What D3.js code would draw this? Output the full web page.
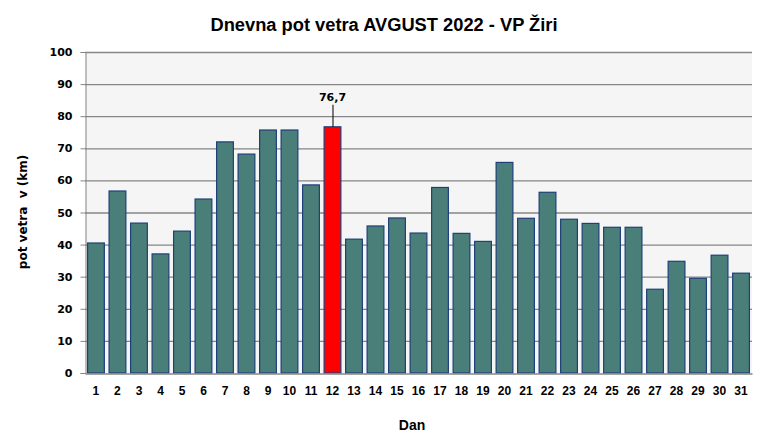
<!DOCTYPE html>
<html><head><meta charset="utf-8">
<script src="https://cdn.jsdelivr.net/npm/d3@7"></script>
<style>body{margin:0;background:#fff}</style>
</head><body>
<svg id="c" width="770" height="439"></svg>
<script>
const days = d3.range(1, 32).map(String);
const values = [40.5,56.7,46.7,37.1,44.2,54.2,72.0,68.2,75.7,75.7,58.6,76.7,41.7,45.8,48.3,43.6,57.8,43.5,41.0,65.6,48.2,56.3,47.9,46.6,45.4,45.4,26.1,34.8,29.5,36.7,31.1];
const yTicks = [0,10,20,30,40,50,60,70,80,90,100];
const title = "Dnevna pot vetra AVGUST 2022 - VP Žiri";
const maxLabel = "76,7";

const svg = d3.select("#c");
const m = {l:85, r:752, t:52, b:373};
const x = d3.scaleBand().domain(days).range([m.l, m.r]).paddingInner(0.22).paddingOuter(0.12);
const y = d3.scaleLinear().domain([0,100]).range([m.b, m.t]);

svg.append("rect").attr("x", m.l).attr("y", m.t).attr("width", m.r-m.l).attr("height", m.b-m.t).attr("fill","#f5f5f5");

svg.append("g").selectAll("line").data(yTicks.filter(d=>d>0)).join("line")
  .attr("x1", m.l).attr("x2", m.r).attr("y1", d=>y(d)+0.5).attr("y2", d=>y(d)+0.5)
  .attr("stroke","#868686").attr("stroke-width",1.3);

const yAxis = svg.append("g").attr("transform",`translate(${m.l+0.5},0)`)
  .call(d3.axisLeft(y).tickValues(yTicks).tickSize(5).tickPadding(8));
yAxis.select(".domain").attr("stroke","#868686");
yAxis.selectAll(".tick line").attr("stroke","#868686");
yAxis.selectAll("text").attr("font-family","DejaVu Sans").attr("font-weight","bold").attr("font-size",11).attr("fill","#000");

const imax = values.indexOf(d3.max(values));
svg.append("g").selectAll("rect").data(values).join("rect")
  .attr("x",(d,i)=>x(days[i])).attr("width",x.bandwidth())
  .attr("y",d=>y(d)).attr("height",d=>y(0)-y(d))
  .attr("fill",(d,i)=>i===imax?"#ff0000":"#4a7e78")
  .attr("stroke","#1f3f7a").attr("stroke-width",1.2);

const xAxis = svg.append("g").attr("transform",`translate(0,${m.b+0.5})`)
  .call(d3.axisBottom(x).tickSize(0).tickPadding(13));
xAxis.select(".domain").attr("stroke","#868686").attr("stroke-width",1.3);
xAxis.selectAll("text").attr("font-family","Liberation Sans Narrow, Liberation Sans").attr("font-weight","bold").attr("font-size",12).attr("fill","#000");

// annotation
const cx = x(days[imax]) + x.bandwidth()/2;
svg.append("line").attr("x1",cx+0.5).attr("x2",cx+0.5).attr("y1",y(values[imax])-22).attr("y2",y(values[imax]))
  .attr("stroke","#000").attr("stroke-width",1);
svg.append("text").attr("x",cx).attr("y",y(values[imax])-26).attr("text-anchor","middle")
  .attr("font-family","DejaVu Sans").attr("font-weight","bold").attr("font-size",11).text(maxLabel);

svg.append("text").attr("x",384).attr("y",31).attr("text-anchor","middle")
  .attr("font-family","Liberation Sans Narrow, Liberation Sans").attr("font-weight","bold").attr("font-size",18.3).text(title);

svg.append("text").attr("transform","translate(27,212) rotate(-90)").attr("text-anchor","middle")
  .attr("font-family","DejaVu Sans").attr("font-weight","bold").attr("font-size",12).attr("xml:space","preserve").text("pot vetra  v (km)");

svg.append("text").attr("x",412).attr("y",430).attr("text-anchor","middle")
  .attr("font-family","Liberation Sans Narrow, Liberation Sans").attr("font-weight","bold").attr("font-size",14).text("Dan");
</script>
</body></html>
